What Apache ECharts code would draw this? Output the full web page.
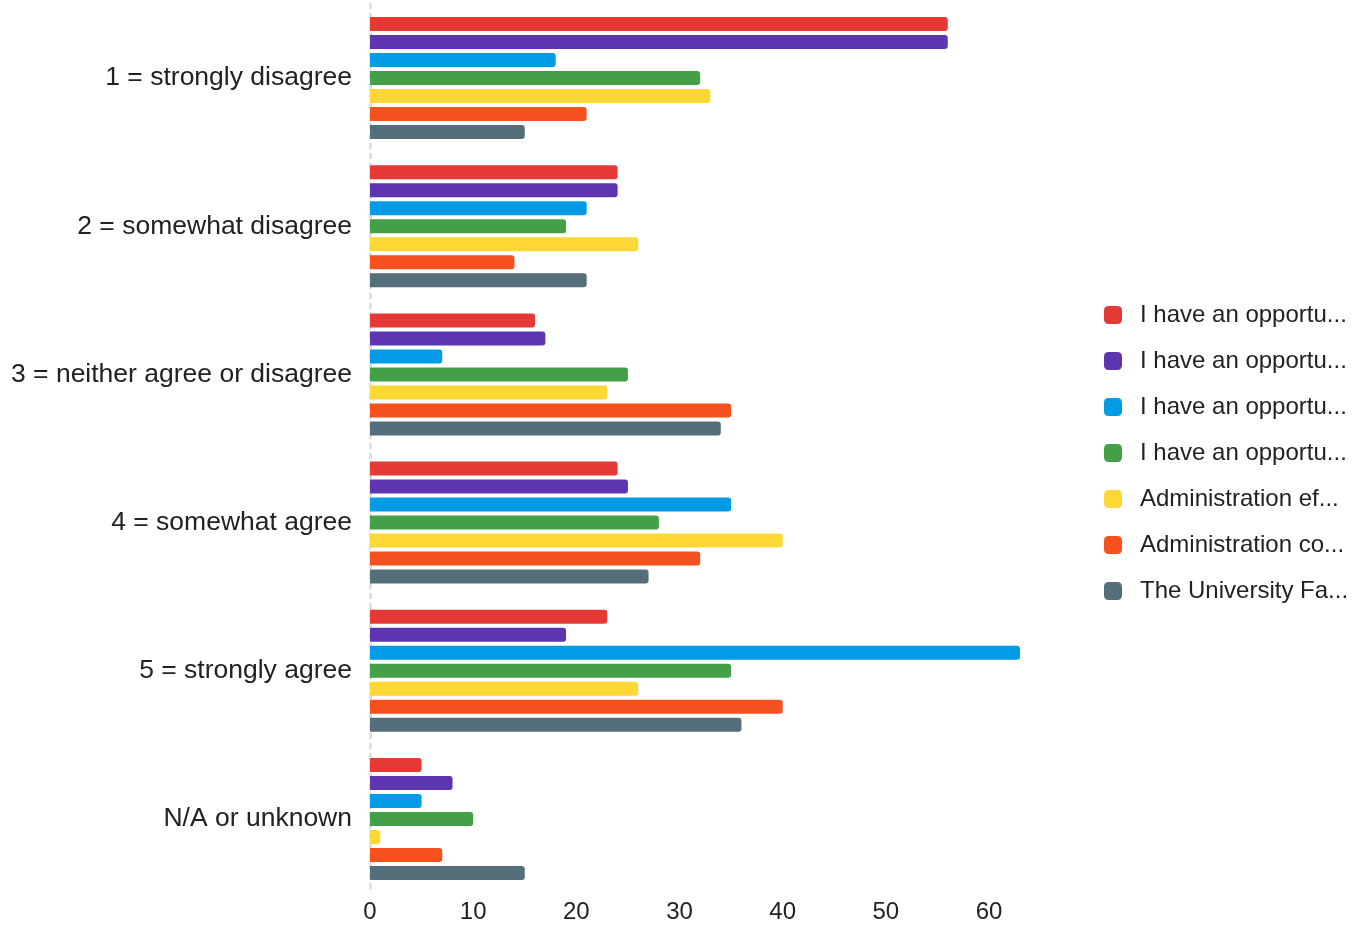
<!DOCTYPE html>
<html>
<head>
<meta charset="utf-8">
<script src="https://cdn.jsdelivr.net/npm/echarts@6/dist/echarts.min.js"></script>
<style>html,body{margin:0;padding:0;background:#fff;}#c{width:1364px;height:925px;}</style>
</head>
<body>
<div id="c"></div>
<script>
const categories = ['1 = strongly disagree', '2 = somewhat disagree', '3 = neither agree or disagree', '4 = somewhat agree', '5 = strongly agree', 'N/A or unknown'];
const legendLabels = ['I have an opportu...', 'I have an opportu...', 'I have an opportu...', 'I have an opportu...', 'Administration ef...', 'Administration co...', 'The University Fa...'];
const s1 = [56, 24, 16, 24, 23, 5];
const s2 = [56, 24, 17, 25, 19, 8];
const s3 = [18, 21, 7, 35, 63, 5];
const s4 = [32, 19, 25, 28, 35, 10];
const s5 = [33, 26, 23, 40, 26, 1];
const s6 = [21, 14, 35, 32, 40, 7];
const s7 = [15, 21, 34, 27, 36, 15];
const xTicks = [0, 10, 20, 30, 40, 50, 60];
const colors = ['#E53935', '#5E35B1', '#039BE5', '#43A047', '#FDD835', '#F4511E', '#546E7A'];

const seriesData = [s1, s2, s3, s4, s5, s6, s7];
const ids = seriesData.map((_, i) => 'series' + i);
const font = '"Liberation Sans", Arial, sans-serif';

const chart = echarts.init(document.getElementById('c'), null, {renderer: 'canvas'});
chart.setOption({
  animation: false,
  color: colors,
  grid: {left: 370, right: 344, top: 4, bottom: 32, containLabel: false},
  xAxis: {
    type: 'value', min: 0, max: 63, interval: 10,
    axisLine: {show: false}, axisTick: {show: false}, splitLine: {show: false},
    axisLabel: {
      fontFamily: font, fontSize: 24, color: '#222', margin: 7, showMaxLabel: false,
      formatter: v => (xTicks.indexOf(v) >= 0 ? String(v) : '')
    }
  },
  yAxis: {
    type: 'category', data: categories, inverse: true,
    axisTick: {show: false},
    axisLine: {show: true, lineStyle: {color: '#e0e0e0', width: 3, type: [4, 6]}},
    axisLabel: {fontFamily: font, fontSize: 26.5, color: '#222', margin: 18}
  },
  legend: {
    orient: 'vertical', left: 1099, top: 298,
    itemWidth: 18, itemHeight: 18, itemGap: 22,
    icon: 'roundRect',
    data: ids,
    formatter: name => legendLabels[ids.indexOf(name)],
    textStyle: {fontFamily: font, fontSize: 24, color: '#222', lineHeight: 24, padding: [0, 0, 0, 13]}
  },
  series: seriesData.map((d, i) => ({
    name: ids[i], type: 'bar', data: d,
    barWidth: 14, barGap: '28.6%',
    itemStyle: {borderRadius: [0, 3, 3, 0]}
  }))
});
</script>
</body>
</html>
